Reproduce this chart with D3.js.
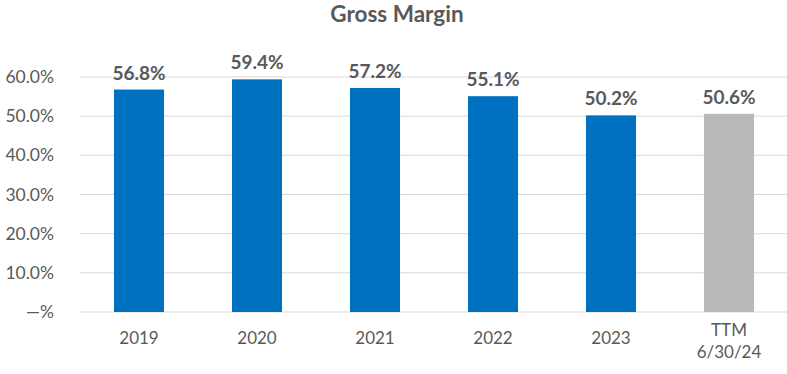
<!DOCTYPE html>
<html>
<head>
<meta charset="utf-8">
<script src="https://cdn.jsdelivr.net/npm/d3@7"></script>
<style>
  body { margin: 0; background: #fff; }
  text { font-family: Lato, "Open Sans", sans-serif; }
</style>
</head>
<body>
<div id="chart-area"></div>
<script>
// data
var categories = ["2019", "2020", "2021", "2022", "2023", "TTM\n6/30/24"];
var margins = [0.568, 0.594, 0.572, 0.551, 0.502, 0.506];
var yTicks = [0, 0.1, 0.2, 0.3, 0.4, 0.5, 0.6];

var width = 787, height = 374;

var svg = d3.select("#chart-area")
  .append("svg")
    .attr("width", width)
    .attr("height", height);

var x = d3.scaleBand()
  .domain(categories)
  .range([80, 788])
  .paddingInner(0.576)
  .paddingOuter(0.288);

var y = d3.scaleLinear()
  .domain([0, 0.6])
  .range([312, 77]);

// title
svg.append("text")
  .attr("x", 397)
  .attr("y", 22)
  .attr("text-anchor", "middle")
  .attr("font-size", 22.5)
  .attr("font-weight", "bold")
  .attr("fill", "#595959")
  .text("Gross Margin");

// gridlines
svg.selectAll("line.grid")
  .data(yTicks)
  .enter()
  .append("line")
    .attr("class", "grid")
    .attr("x1", 80)
    .attr("x2", 787)
    .attr("y1", function(d) { return y(d); })
    .attr("y2", function(d) { return y(d); })
    .attr("stroke", "#d9d9d9")
    .attr("stroke-width", 1);

// y labels
svg.selectAll("text.ytick")
  .data(yTicks)
  .enter()
  .append("text")
    .attr("class", "ytick")
    .attr("x", 54)
    .attr("y", function(d) { return y(d); })
    .attr("dy", "0.35em")
    .attr("text-anchor", "end")
    .attr("font-size", 17.5)
    .attr("fill", "#595959")
    .text(function(d) { return d === 0 ? "\u2014%" : (d * 100).toFixed(1) + "%"; });

// bars
svg.selectAll("rect.bar")
  .data(margins)
  .enter()
  .append("rect")
    .attr("class", "bar")
    .attr("x", function(d, i) { return x(categories[i]); })
    .attr("width", x.bandwidth())
    .attr("y", function(d) { return y(d); })
    .attr("height", function(d) { return y(0) - y(d); })
    .attr("fill", function(d, i) { return i === categories.length - 1 ? "#b9b9b9" : "#0070c0"; });

// value labels
svg.selectAll("text.val")
  .data(margins)
  .enter()
  .append("text")
    .attr("class", "val")
    .attr("x", function(d, i) { return x(categories[i]) + x.bandwidth() / 2; })
    .attr("y", function(d) { return y(d) - 10; })
    .attr("text-anchor", "middle")
    .attr("font-size", 19)
    .attr("font-weight", "bold")
    .attr("fill", "#595959")
    .text(function(d) { return (d * 100).toFixed(1) + "%"; });

// x labels
var xl = svg.selectAll("text.xtick")
  .data(categories)
  .enter()
  .append("text")
    .attr("class", "xtick")
    .attr("text-anchor", "middle")
    .attr("font-size", 17)
    .attr("fill", "#595959")
    .attr("y", function(d) { return d.indexOf("\n") >= 0 ? 336 : 344; });

xl.selectAll("tspan")
  .data(function(d) { return d.split("\n").map(function(s) { return { s: s, c: d }; }); })
  .enter()
  .append("tspan")
    .attr("x", function(t) { return x(t.c) + x.bandwidth() / 2; })
    .attr("dy", function(t, i) { return i === 0 ? 0 : 22; })
    .text(function(t) { return t.s; });
</script>
</body>
</html>
